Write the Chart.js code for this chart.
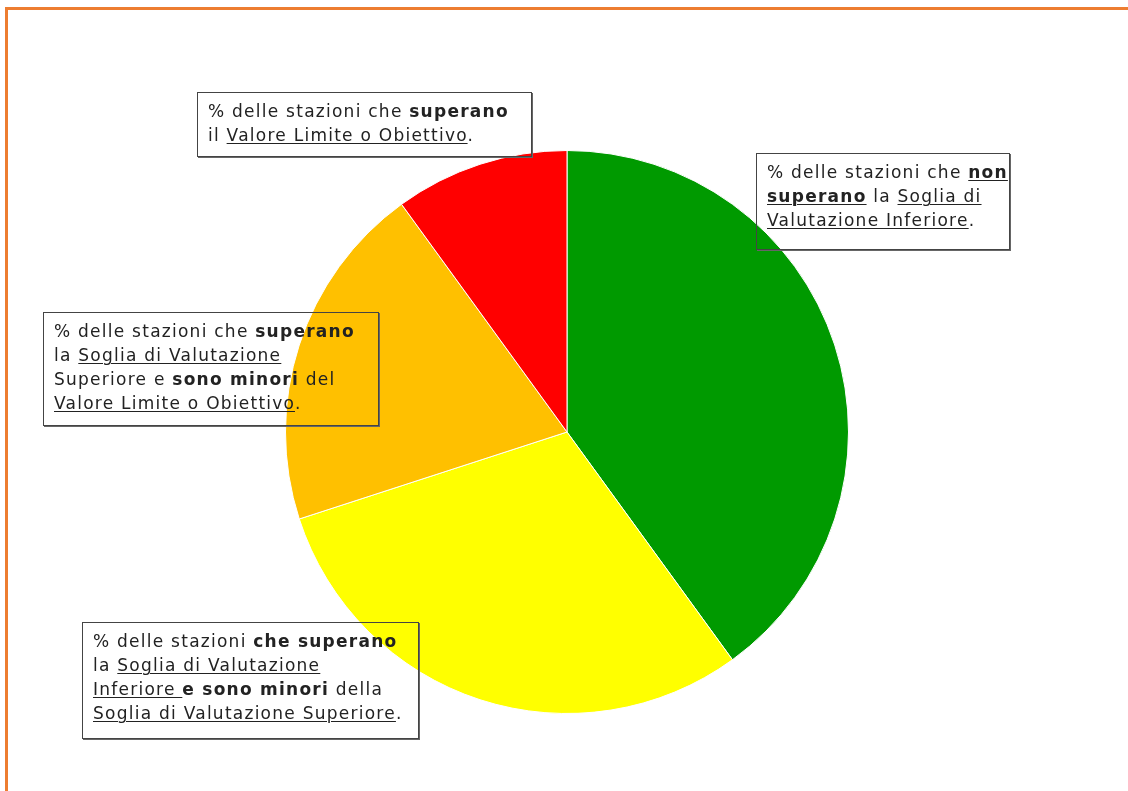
<!DOCTYPE html>
<html>
<head>
<meta charset="utf-8">
<script src="https://cdn.jsdelivr.net/npm/chart.js@4"></script>
<style>
  html, body { margin: 0; padding: 0; background: #fff; }
  body { width: 1128px; height: 791px; position: relative; overflow: hidden; }
  #frame {
    position: absolute; left: 5px; top: 7px; width: 1130px; height: 800px;
    border-top: 3px solid #ed7d31; border-left: 3px solid #ed7d31;
  }
  #pieWrap { position: absolute; left: 285px; top: 150px; width: 564px; height: 564px; }
  .note {
    position: absolute; box-sizing: border-box;
    border: 1px solid #444; box-shadow: 1px 1px 0 #666;
    font-family: "DejaVu Sans", Verdana, sans-serif; font-size: 17px;
    letter-spacing: 1.25px;
    line-height: 24px; color: #222; white-space: nowrap;
    padding: 6px 0 0 10px;
  }
  .note u { text-decoration-thickness: 1px; text-underline-offset: 2px; }
</style>
</head>
<body>
<div id="frame"></div>
<div id="pieWrap"><canvas id="pie"></canvas></div>

<div class="note" style="left:197px; top:92px; width:335px; height:65px;">
  % delle stazioni che <b>superano</b><br>il <u>Valore Limite o Obiettivo</u>.
</div>
<div class="note" style="left:756px; top:153px; width:254px; height:97px;">
  % delle stazioni che <b><u>non</u></b><br><b><u>superano</u></b> la <u>Soglia di</u><br><u>Valutazione Inferiore</u>.
</div>
<div class="note" style="left:43px; top:312px; width:336px; height:114px;">
  % delle stazioni che <b>superano</b><br>la <u>Soglia di Valutazione</u><br>Superiore e <b>sono minori</b> del<br><u>Valore Limite o Obiettivo</u>.
</div>
<div class="note" style="left:82px; top:622px; width:337px; height:117px;">
  % delle stazioni <b>che superano</b><br>la <u>Soglia di Valutazione</u><br><u>Inferiore </u><b>e sono minori</b> della<br><u>Soglia di Valutazione Superiore</u>.
</div>

<script>
// quote delle stazioni per classe (in senso orario dalle ore 12)
const categories = ['Non superano SVI', 'Tra SVI e SVS', 'Tra SVS e VL', 'Superano VL'];
const values = [40, 30, 20, 10];
const sliceColors = ['#009a00', '#ffff00', '#ffc000', '#ff0000'];

new Chart(document.getElementById('pie'), {
  type: 'pie',
  data: {
    labels: categories,
    datasets: [{
      data: values,
      backgroundColor: sliceColors,
      borderColor: '#ffffff',
      borderWidth: 1
    }]
  },
  options: {
    responsive: true,
    maintainAspectRatio: false,
    animation: false,
    layout: { padding: 0 },
    plugins: {
      legend: { display: false },
      tooltip: { enabled: false }
    }
  }
});
</script>
</body>
</html>
